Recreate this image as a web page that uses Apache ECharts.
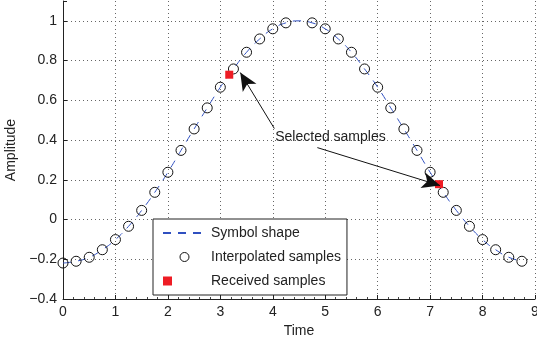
<!DOCTYPE html>
<html>
<head>
<meta charset="utf-8">
<script src="https://cdn.jsdelivr.net/npm/echarts@6/dist/echarts.min.js"></script>
<style>
  html, body { margin: 0; padding: 0; background: #fff; }
  #main { width: 537px; height: 341px; }
</style>
</head>
<body>
<div id="main"></div>
<script>
// interpolated sample instants (no sample at 4.5)
const sampleTime = [0, 0.25, 0.5, 0.75, 1, 1.25, 1.5, 1.75, 2, 2.25, 2.5, 2.75, 3, 3.25, 3.5, 3.75, 4, 4.25,
  4.75, 5, 5.25, 5.5, 5.75, 6, 6.25, 6.5, 6.75, 7, 7.25, 7.5, 7.75, 8, 8.25, 8.5, 8.75];
const sampleValue = [-0.219, -0.21, -0.19, -0.152, -0.101, -0.034, 0.046, 0.137, 0.238, 0.348, 0.456, 0.562, 0.666, 0.758, 0.842, 0.909, 0.96, 0.99,
  0.99, 0.96, 0.909, 0.842, 0.758, 0.666, 0.562, 0.456, 0.348, 0.238, 0.137, 0.046, -0.034, -0.101, -0.152, -0.19, -0.21];

// symbol shape (dashed curve)
const shapeTime = [0, 0.25, 0.5, 0.75, 1, 1.25, 1.5, 1.75, 2, 2.25, 2.5, 2.75, 3, 3.25, 3.5, 3.75, 4, 4.25, 4.5,
  4.75, 5, 5.25, 5.5, 5.75, 6, 6.25, 6.5, 6.75, 7, 7.25, 7.5, 7.75, 8, 8.25, 8.5, 8.75];
const shapeValue = [-0.219, -0.21, -0.19, -0.152, -0.101, -0.034, 0.046, 0.137, 0.238, 0.348, 0.456, 0.562, 0.666, 0.758, 0.842, 0.909, 0.96, 0.99, 1.0,
  0.99, 0.96, 0.909, 0.842, 0.758, 0.666, 0.562, 0.456, 0.348, 0.238, 0.137, 0.046, -0.034, -0.101, -0.152, -0.19, -0.21];

const receivedTime = [3.17, 7.17];
const receivedValue = [0.729, 0.178];

// annotation: text anchor and arrows [from, to]
const noteText = "Selected samples";
const notePos = [5.1, 0.417];
const arrows = [
  [[4.03, 0.458], [3.38, 0.74]],
  [[4.85, 0.362], [7.19, 0.171]],
];

const yTicks = [-0.4, -0.2, 0, 0.2, 0.4, 0.6, 0.8, 1];
const yTickLabels = ["\u22120.4", "\u22120.2", "0", "0.2", "0.4", "0.6", "0.8", "1"];

const FONT = "Liberation Sans, Arial, Helvetica, sans-serif";
const zip = (a, b) => a.map((v, i) => [v, b[i]]);

const chart = echarts.init(document.getElementById("main"), null, { renderer: "canvas" });
chart.setOption({
  animation: false,
  textStyle: { fontFamily: FONT },
  grid: { left: 63, right: 2, top: 1, bottom: 42, outerBoundsMode: "none", containLabel: false },
  xAxis: {
    type: "value",
    min: 0, max: 9, interval: 1,
    name: "Time", nameLocation: "middle", nameGap: 24,
    nameTextStyle: { fontSize: 14, color: "#222", fontFamily: FONT },
    axisLine: { onZero: false, lineStyle: { color: "#222", width: 1 } },
    axisTick: { inside: true, length: 4, lineStyle: { color: "#222" } },
    minorTick: { show: true, splitNumber: 5, length: 2, lineStyle: { color: "#444" } },
    axisLabel: { fontSize: 14, color: "#222", margin: 6, fontFamily: FONT },
    splitLine: { show: true, showMinLine: false, lineStyle: { color: "#666", type: [1, 3], width: 1 } },
  },
  yAxis: {
    type: "value",
    min: -0.4, max: 1.1, interval: 0.2,
    name: "Amplitude", nameLocation: "middle", nameGap: 39,
    nameTextStyle: { fontSize: 14, color: "#222", fontFamily: FONT },
    axisLine: { show: true, onZero: false, lineStyle: { color: "#222", width: 1 } },
    axisTick: { show: true, inside: true, length: 4, lineStyle: { color: "#222" } },
    axisLabel: {
      fontSize: 14, color: "#222", margin: 6, fontFamily: FONT,
      formatter: (v) => {
        const i = yTicks.findIndex((t) => Math.abs(t - v) < 1e-6);
        return i < 0 ? "" : yTickLabels[i];
      },
    },
    splitLine: { show: true, showMinLine: false, showMaxLine: false, lineStyle: { color: "#666", type: [1, 3], width: 1 } },
  },
  legend: {
    orient: "vertical",
    left: 153, top: 219,
    backgroundColor: "#fff",
    borderColor: "#222", borderWidth: 1,
    padding: [7, 6, 7, 9],
    itemWidth: 43, itemHeight: 9, itemGap: 10,
    textStyle: { fontSize: 14, color: "#222", fontFamily: FONT },
    data: [
      { name: "Symbol shape", icon: "inherit" },
      { name: "Interpolated samples", itemStyle: { borderWidth: 1 } },
      { name: "Received samples", icon: "square" },
    ],
  },
  series: [
    {
      name: "Symbol shape",
      type: "line",
      data: zip(shapeTime, shapeValue),
      smooth: true,
      symbol: "circle",
      symbolSize: 0,
      showSymbol: false,
      lineStyle: { color: "#3050c0", width: 1, type: [8, 7] },
      itemStyle: { color: "#3050c0", opacity: 0 },
      z: 2,
    },
    {
      name: "Interpolated samples",
      type: "scatter",
      data: zip(sampleTime, sampleValue),
      symbol: "circle",
      symbolSize: 10,
      itemStyle: { color: "rgba(255,255,255,0)", borderColor: "#111", borderWidth: 1, opacity: 1 },
      z: 3,
    },
    {
      name: "Received samples",
      type: "scatter",
      data: zip(receivedTime, receivedValue),
      symbol: "rect",
      symbolSize: 8,
      itemStyle: { color: "#ee1c24", opacity: 1 },
      z: 4,
      markLine: {
        silent: true,
        animation: false,
        symbol: ["none", "arrow"],
        symbolSize: [0, 14],
        lineStyle: { color: "#111", width: 1, type: "solid" },
        label: { show: false },
        data: arrows.map(([a, b]) => [
          { coord: a, symbol: "none" },
          { coord: b, symbol: "arrow", symbolSize: [12, 18] },
        ]),
      },
      markPoint: {
        silent: true,
        symbol: "circle",
        symbolSize: 0,
        data: [{ coord: notePos }],
        label: {
          show: true, position: "inside", formatter: noteText,
          fontSize: 14, color: "#222", fontFamily: FONT,
        },
      },
    },
  ],
});

window.onresize = chart.resize;
</script>
</body>
</html>
